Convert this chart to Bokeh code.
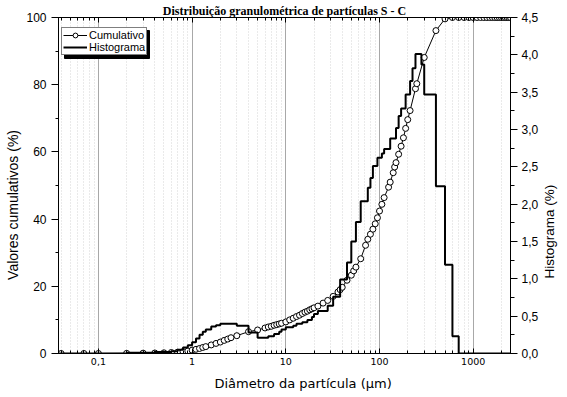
import math
from bokeh.plotting import figure
from bokeh.models import (Range1d, LinearAxis, LogAxis, FixedTicker, SingleIntervalTicker,
                          CustomJSTickFormatter, Legend, LegendItem, BoxAnnotation)
from bokeh.embed import file_html
from bokeh.resources import INLINE

# ---------------- data ----------------
diametro = [0.04, 0.07, 0.1, 0.2, 0.3, 0.4, 0.5, 0.6, 0.7, 0.8, 0.9, 1.0, 1.1, 1.2, 1.3, 1.4,
            1.6, 1.8, 2.0, 2.2, 2.4, 2.6, 3.0, 4.0, 5.0, 6.0, 6.5, 7.0, 7.5, 8.0, 8.5, 9.0,
            10, 11, 12, 13, 14, 15, 16, 17, 18, 19, 20, 22, 25, 28, 32, 36, 38, 40, 45, 50,
            53, 56, 63, 71, 75, 80, 85, 90, 95, 100, 106, 112, 125, 130, 140, 145, 150, 160,
            170, 180, 190, 200, 212, 242, 250, 300, 400, 500,
            600, 700, 800, 900, 1000, 1100, 1200, 1300, 1400, 1500, 1600, 1700, 1800, 1900,
            2000, 2100, 2200, 2300, 2400, 2500]
cumulativo = [0, 0, 0, 0.05, 0.1, 0.15, 0.2, 0.3, 0.4, 0.55, 0.75, 1.0, 1.25, 1.5, 1.8, 2.05,
              2.55, 3.0, 3.4, 3.9, 4.3, 4.7, 5.3, 6.5, 7.0, 7.6, 7.9, 8.1, 8.4, 8.6, 8.8, 9.0,
              9.4, 10.0, 10.5, 11.0, 11.4, 11.9, 12.3, 12.6, 13.0, 13.3, 13.6, 14.1, 15.0, 15.8,
              17.0, 18.3, 19.0, 19.7, 21.8, 23.3,
              24.6, 25.7, 28.2, 32.2, 34.0, 35.5, 37.0, 38.6, 40.4, 42.4, 44.4, 46.4, 49.5, 51.0,
              53.8, 55.5, 56.8, 59.3,
              61.7, 64.2, 67.0, 69.6, 72.3, 78.8, 80.3, 88.1, 96.1, 99.6,
              100, 100, 100, 100, 100, 100, 100, 100, 100, 100, 100, 100, 100, 100,
              100, 100, 100, 100, 100, 100]

hist_x = [0.0375, 0.2, 0.4, 0.6, 0.7, 0.8, 0.9, 1.0, 1.1, 1.2, 1.3, 1.4, 1.6, 1.8, 2.0,
          3.0, 4.0, 5.0, 6.5, 7.5, 8.5, 9.0, 10, 12, 13, 15, 17, 19, 20, 22, 28, 32, 38, 45,
          50, 56, 63, 75, 80, 85, 95, 106, 112, 130, 150, 160, 170, 190, 212, 225, 242, 280,
          300, 400, 500, 600, 700, 2500]
hist_y = [0, 0.01, 0.02, 0.03, 0.05, 0.08, 0.11, 0.15, 0.2, 0.25, 0.29, 0.32, 0.36, 0.38, 0.40,
          0.37, 0.28, 0.21, 0.23, 0.26, 0.29, 0.32, 0.35, 0.37, 0.40, 0.42, 0.45, 0.49, 0.53, 0.57,
          0.64, 0.76, 0.99, 1.22, 1.50, 1.76, 2.04, 2.22, 2.35, 2.51, 2.62, 2.68, 2.74, 2.88,
          3.02, 3.18, 3.28, 3.47, 3.65, 3.82, 4.01, 3.87, 3.47, 2.24, 1.19, 0.23, 0, 0]

x_ticks = [0.1, 1, 10, 100, 1000]
x_minor = [m * 10.0 ** k for k in range(-2, 4) for m in range(2, 10)]

titulo = "Distribuição granulométrica de partículas S - C"
x_titulo = "Diâmetro da partícula (\u03bcm)"
y_titulo = "Valores cumulativos (%)"
y2_titulo = "Histograma (%)"

NB = "\u00a0"

# ---------------- figure ----------------
p = figure(width=567, height=397, x_axis_type="log",
           x_range=Range1d(0.0375, 2500), y_range=Range1d(0, 100),
           output_backend="svg", toolbar_location=None,
           min_border_left=58, min_border_right=51, min_border_top=16, min_border_bottom=44,
           background_fill_color="white", border_fill_color="white")
p.outline_line_color = "black"
p.outline_line_width = 1
p.extra_y_ranges = {"hist": Range1d(0, 4.5)}

xticker = FixedTicker(ticks=x_ticks, minor_ticks=x_minor)

ax = p.xaxis[0]
ax.ticker = xticker
ax.formatter = CustomJSTickFormatter(
    code="return tick < 1 ? tick.toString().replace('.', ',') : tick.toFixed(0);")
ax.major_tick_in = 5
ax.major_tick_out = 0
ax.minor_tick_in = 3
ax.minor_tick_out = 0
ax.major_label_text_font = "DejaVu Sans"
ax.major_label_text_font_size = "9.5px"
ax.major_label_text_color = "black"
ax.major_label_standoff = 4
ax.axis_line_color = "black"
ax.major_tick_line_color = "black"
ax.minor_tick_line_color = "black"
ax.axis_label = NB * 9 + x_titulo
ax.axis_label_text_font = "DejaVu Sans"
ax.axis_label_text_font_size = "13px"
ax.axis_label_text_font_style = "normal"
ax.axis_label_text_color = "black"
ax.axis_label_standoff = 8

# top axis: inward ticks only
top = LogAxis(ticker=xticker,
              formatter=CustomJSTickFormatter(code="return ' ';"),
              major_label_text_font_size="1px", major_label_text_color=None,
              major_label_standoff=0,
              major_tick_in=5, major_tick_out=0, minor_tick_in=3, minor_tick_out=0,
              axis_line_color="black", major_tick_line_color="black",
              minor_tick_line_color="black")
p.add_layout(top, "above")

# chart title carried by an invisible axis above the tick axis
title_axis = LogAxis(ticker=FixedTicker(ticks=[1]),
                     formatter=CustomJSTickFormatter(code="return ' ';"),
                     major_label_text_font_size="1px", major_label_text_color=None,
                     major_label_standoff=0,
                     major_tick_in=0, major_tick_out=0, minor_tick_in=0, minor_tick_out=0,
                     axis_line_color=None, major_tick_line_color=None,
                     minor_tick_line_color=None,
                     axis_label=titulo, axis_label_standoff=0,
                     axis_label_text_font="Liberation Serif",
                     axis_label_text_font_style="bold",
                     axis_label_text_font_size="12px", axis_label_text_color="black")
p.add_layout(title_axis, "above")

g = p.xgrid[0]
g.ticker = xticker
g.grid_line_color = "#a8a8a8"
g.grid_line_width = 1
g.minor_grid_line_color = "#d4d4d4"
g.minor_grid_line_dash = "1 2"
p.ygrid.visible = False

ay = p.yaxis[0]
ay.ticker = SingleIntervalTicker(interval=20, num_minor_ticks=2)
ay.major_tick_out = 7
ay.major_tick_in = 0
ay.minor_tick_out = 3
ay.minor_tick_in = 0
ay.major_label_text_font = "Liberation Sans"
ay.major_label_text_font_size = "12px"
ay.major_label_text_color = "black"
ay.major_label_standoff = 5
ay.axis_line_color = "black"
ay.major_tick_line_color = "black"
ay.minor_tick_line_color = "black"
ay.axis_label = y_titulo + NB * 10
ay.axis_label_text_font = "Liberation Sans"
ay.axis_label_text_font_size = "14px"
ay.axis_label_text_font_style = "normal"
ay.axis_label_text_color = "black"
ay.axis_label_standoff = 2

ar = LinearAxis(y_range_name="hist",
                ticker=SingleIntervalTicker(interval=0.5, num_minor_ticks=2),
                formatter=CustomJSTickFormatter(code="return tick.toFixed(1).replace('.', ',');"),
                major_tick_out=7, major_tick_in=0, minor_tick_out=4, minor_tick_in=0,
                major_label_text_font="Liberation Sans", major_label_text_font_size="12px",
                major_label_text_color="black", major_label_standoff=4,
                axis_line_color="black", major_tick_line_color="black",
                minor_tick_line_color="black",
                axis_label=NB * 20 + y2_titulo, axis_label_standoff=8,
                axis_label_text_font="Liberation Sans", axis_label_text_font_size="13.5px",
                axis_label_text_font_style="normal", axis_label_text_color="black")
props = LinearAxis.properties()
if "axis_label_orientation" in props:
    ar.axis_label_orientation = -1.5 * math.pi
if "axis_label_align" in props:
    ar.axis_label_align = "start"
p.add_layout(ar, "right")

# ---------------- glyphs ----------------
cum_line = p.line(diametro, cumulativo, line_color="black", line_width=1)
cum_pts = p.scatter(diametro, cumulativo, marker="circle", size=6,
                    fill_color="white", line_color="black", line_width=1)
hist_r = p.step(hist_x, hist_y, mode="after", line_color="black", line_width=2,
                y_range_name="hist")

# ---------------- legend (with drop shadow) ----------------
LEG_W, LEG_H = 85, 28
shadow = BoxAnnotation(left=6, right=6 + LEG_W, top=323, bottom=323 - LEG_H,
                       left_units="screen", right_units="screen",
                       top_units="screen", bottom_units="screen",
                       fill_color="black", fill_alpha=1, line_color="black", line_alpha=1)
p.add_layout(shadow)

legend = Legend(items=[LegendItem(label="Cumulativo", renderers=[cum_line, cum_pts]),
                       LegendItem(label="Histograma", renderers=[hist_r])],
                location=(3, 298), orientation="vertical",
                padding=1, spacing=0, margin=0,
                glyph_width=24, glyph_height=12, label_height=12, label_standoff=2,
                label_text_font="Liberation Sans", label_text_font_size="11px",
                label_text_color="black",
                border_line_color="black", border_line_width=1,
                background_fill_color="white", background_fill_alpha=1)
p.add_layout(legend, "center")

with open("out.html", "w", encoding="utf-8") as f:
    f.write(file_html(p, INLINE))
